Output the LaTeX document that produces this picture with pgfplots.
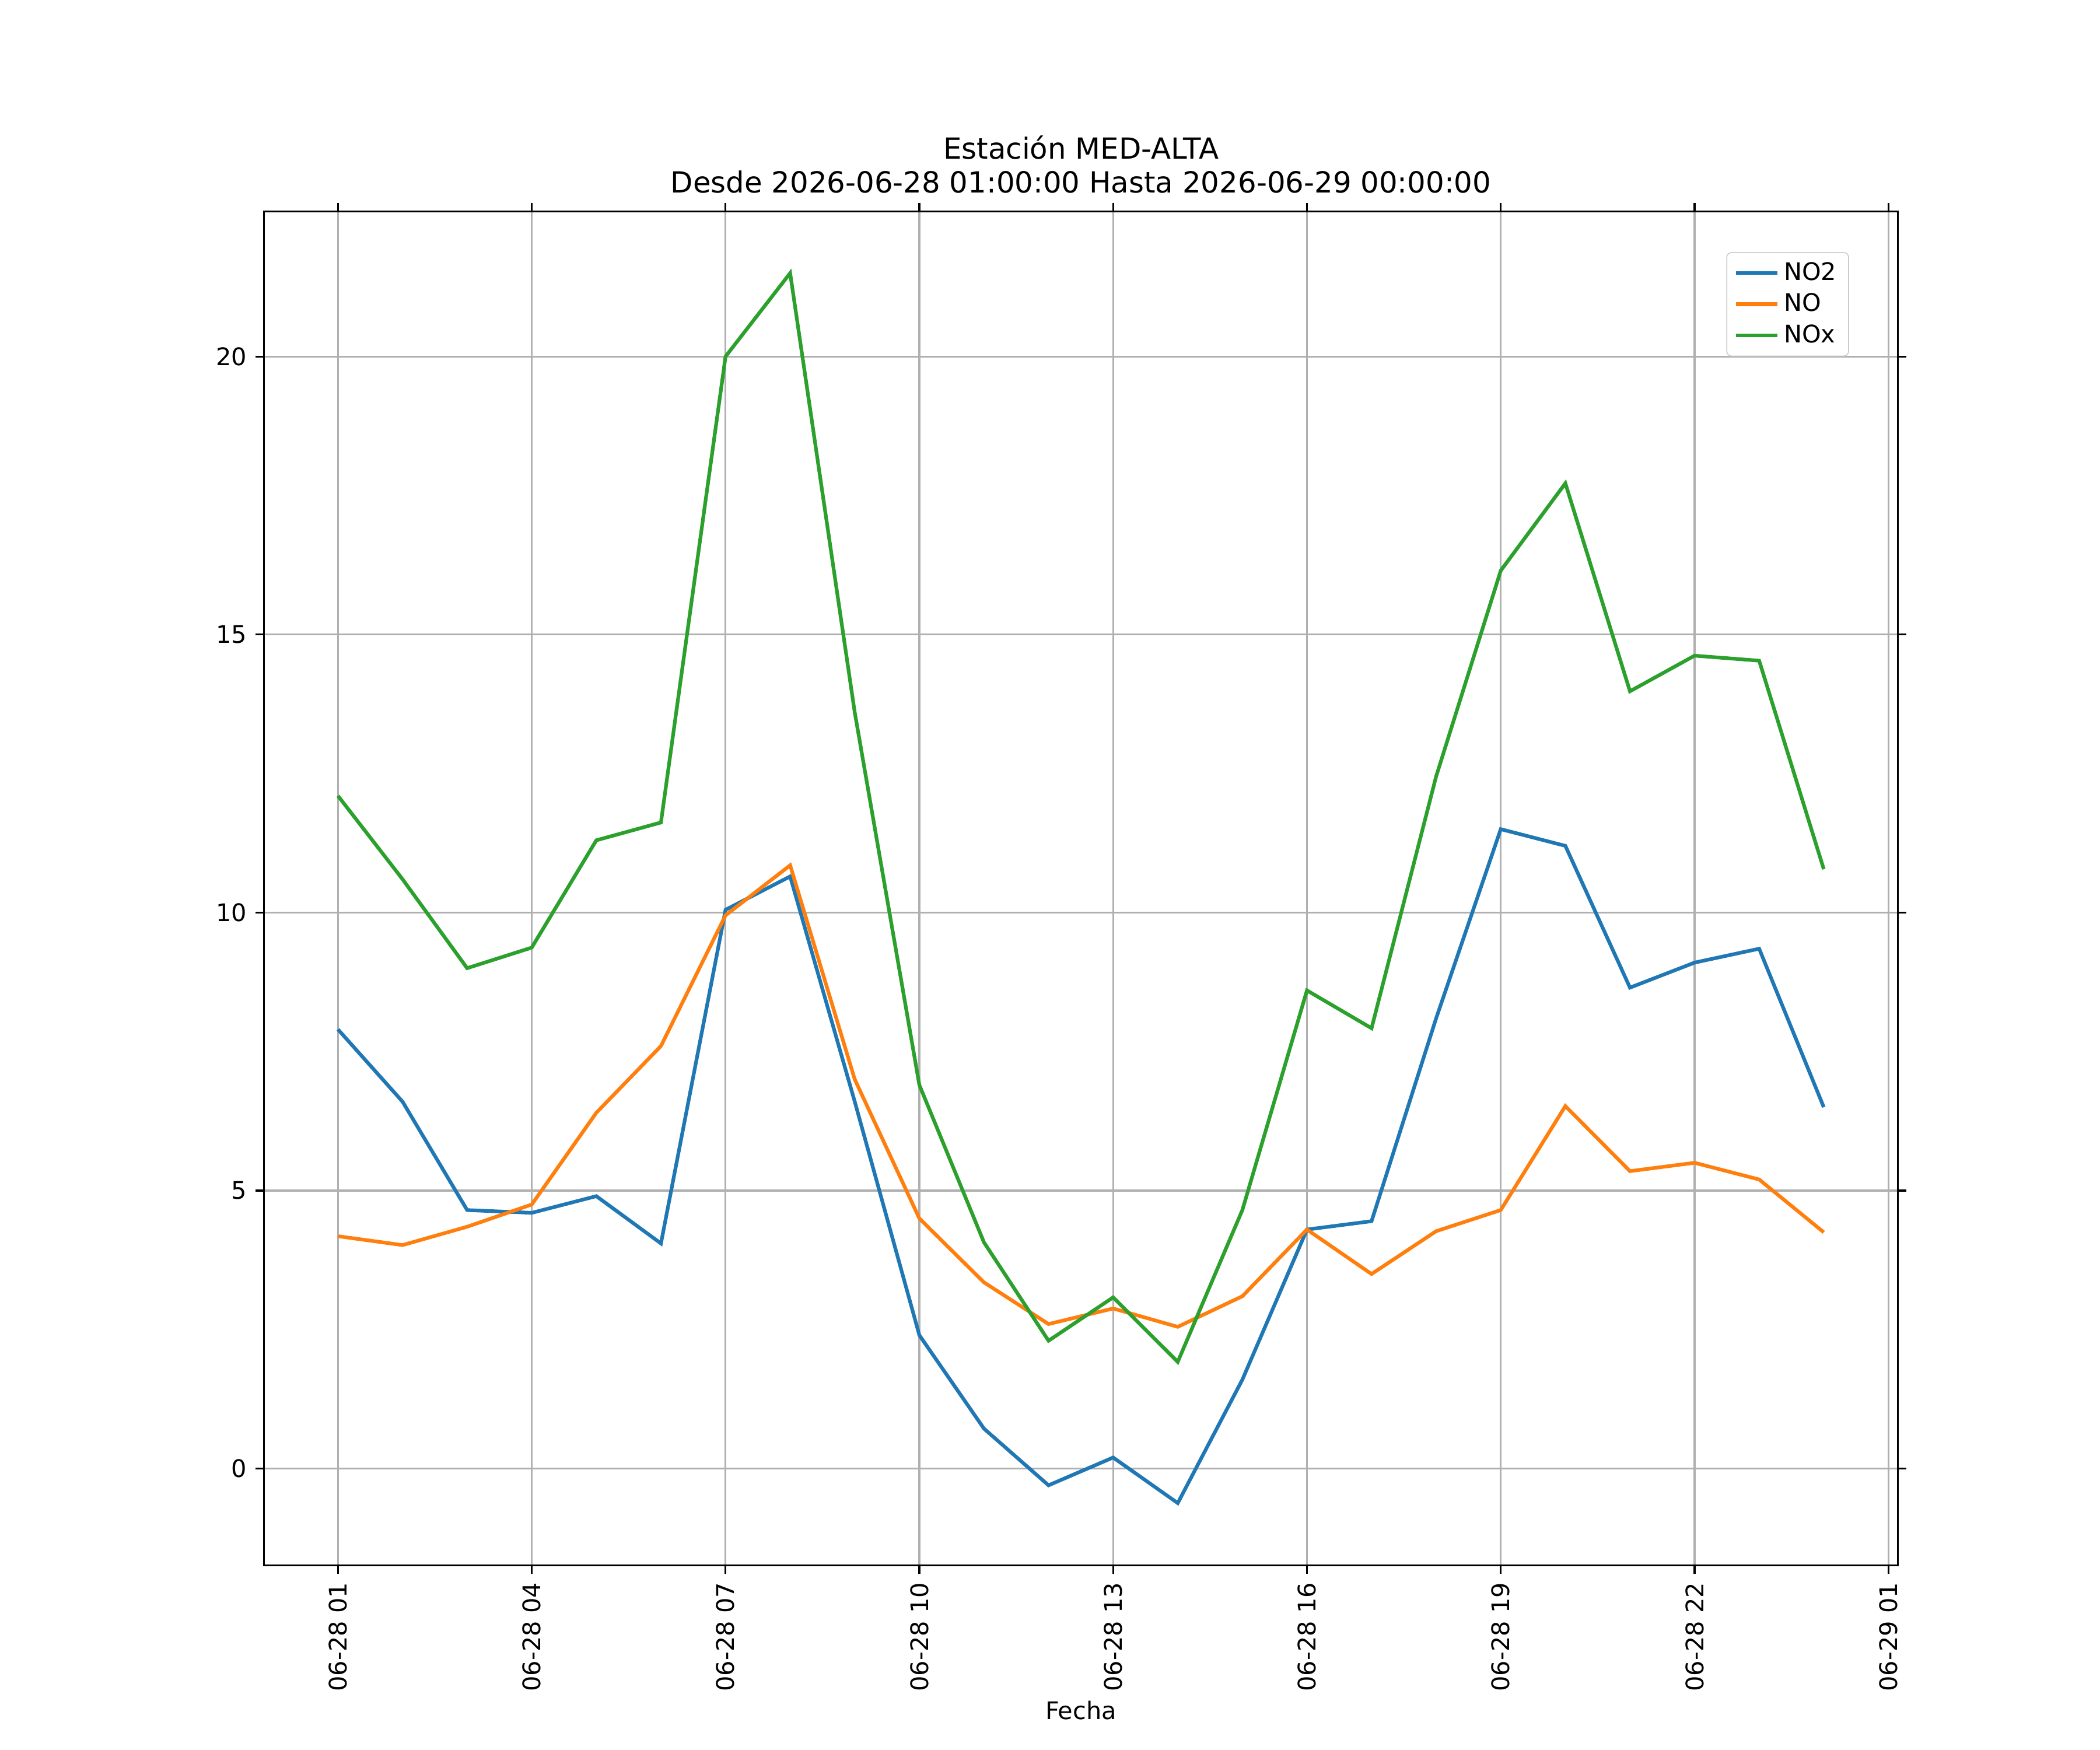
\documentclass[border=0pt]{standalone}
\usepackage{fontspec}
\setmainfont{DejaVu Sans}
\usepackage{pgfplots}
\pgfplotsset{compat=1.18}
\definecolor{c1}{HTML}{1F77B4}
\definecolor{c2}{HTML}{FF7F0E}
\definecolor{c3}{HTML}{2CA02C}
\begin{document}
\begin{tikzpicture}
\useasboundingbox (0,0) rectangle (12in,10in);
\begin{axis}[at={(1.508in,1.054in)},anchor=south west,scale only axis,
 width=9.338in,height=7.738in,
 xmin=-0.146,xmax=25.15,ymin=-1.743,ymax=22.61,
 xtick={1,4,7,10,13,16,19,22,25},
 xticklabels={06-28 01,06-28 04,06-28 07,06-28 10,06-28 13,06-28 16,06-28 19,06-28 22,06-29 01},
 xticklabel style={rotate=90,anchor=east},
 ytick={0,5,10,15,20},
 /pgf/number format/assume math mode=true,
 tick label style={font=\fontsize{10}{12}\selectfont},
 grid=major,grid style={color=black!31,line width=0.8pt},
 tick style={black,line width=0.8pt},tick align=outside,
 major tick length=3.5pt,
 axis line style={line width=0.8pt},
 xlabel={Fecha},xlabel style={font=\fontsize{10}{12}\selectfont,yshift=3pt},
 title={Estación MED-ALTA\\Desde 2026-06-28 01:00:00 Hasta 2026-06-29 00:00:00},
 title style={font=\fontsize{12}{14}\selectfont,align=center,yshift=-2pt},
 legend pos=north east,
 legend style={font=\fontsize{10}{12}\selectfont,draw=black!20,rounded corners=2pt,cells={anchor=west}},
 legend cell align=left,
 every axis plot/.append style={line width=1.5pt,mark=none},
]
\addplot[c1] coordinates {(1,7.9)(2,6.6)(3,4.65)(4,4.6)(5,4.9)(6,4.05)(7,10.05)(8,10.65)(9,6.6)(10,2.4)(11,0.72)(12,-0.3)(13,0.2)(14,-0.62)(15,1.6)(16,4.3)(17,4.45)(18,8.1)(19,11.5)(20,11.2)(21,8.65)(22,9.1)(23,9.35)(24,6.5)};
\addplot[c2] coordinates {(1,4.18)(2,4.02)(3,4.35)(4,4.75)(5,6.4)(6,7.6)(7,9.95)(8,10.85)(9,7.0)(10,4.5)(11,3.35)(12,2.6)(13,2.88)(14,2.55)(15,3.1)(16,4.3)(17,3.5)(18,4.27)(19,4.65)(20,6.52)(21,5.35)(22,5.5)(23,5.2)(24,4.25)};
\addplot[c3] coordinates {(1,12.1)(2,10.6)(3,9.0)(4,9.37)(5,11.3)(6,11.62)(7,20.0)(8,21.5)(9,13.6)(10,6.9)(11,4.07)(12,2.3)(13,3.08)(14,1.92)(15,4.65)(16,8.6)(17,7.92)(18,12.45)(19,16.15)(20,17.72)(21,13.98)(22,14.62)(23,14.53)(24,10.78)};
\legend{NO2,NO,NOx}
\end{axis}
\end{tikzpicture}
\end{document}
